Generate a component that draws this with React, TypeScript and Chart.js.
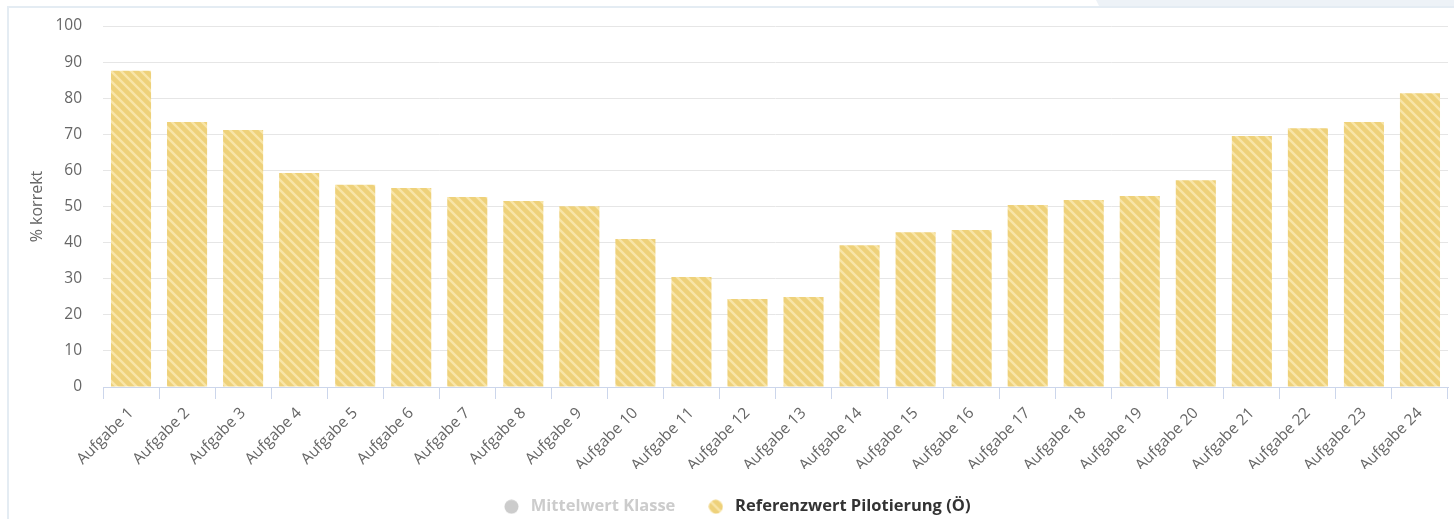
import React, { useEffect, useRef } from "react";
import { Chart, registerables } from "chart.js";

Chart.register(...registerables);

const categories: string[] = [
  "Aufgabe 1", "Aufgabe 2", "Aufgabe 3", "Aufgabe 4", "Aufgabe 5", "Aufgabe 6",
  "Aufgabe 7", "Aufgabe 8", "Aufgabe 9", "Aufgabe 10", "Aufgabe 11", "Aufgabe 12",
  "Aufgabe 13", "Aufgabe 14", "Aufgabe 15", "Aufgabe 16", "Aufgabe 17", "Aufgabe 18",
  "Aufgabe 19", "Aufgabe 20", "Aufgabe 21", "Aufgabe 22", "Aufgabe 23", "Aufgabe 24",
];

const referenceValues: number[] = [
  87.6, 73.4, 71.2, 59.3, 56.0, 55.1, 52.6, 51.5, 50.1, 41.0, 30.5, 24.4,
  24.9, 39.3, 42.9, 43.5, 50.4, 51.8, 52.9, 57.3, 69.5, 71.7, 73.4, 81.4,
];

const classMeans: (number | null)[] = [];

const seriesNames: string[] = ["Mittelwert Klasse", "Referenzwert Pilotierung (Ö)"];
const yAxisTitle = "% korrekt";
const yMin = 0;
const yMax = 100;
const yStep = 10;

const FONT = "'Open Sans', 'Noto Sans', sans-serif";
const BASE = "#eed17a";
const STRIPE = "#f8e5a8";

function makePattern(): CanvasPattern | string {
  const c = document.createElement("canvas");
  c.width = 10;
  c.height = 10;
  const g = c.getContext("2d");
  if (!g) return BASE;
  g.fillStyle = BASE;
  g.fillRect(0, 0, 10, 10);
  g.strokeStyle = STRIPE;
  g.lineWidth = 2.4;
  g.beginPath();
  g.moveTo(-1, -1);
  g.lineTo(11, 11);
  g.moveTo(9, -1);
  g.lineTo(11, 1);
  g.moveTo(-1, 9);
  g.lineTo(1, 11);
  g.stroke();
  const p = g.createPattern(c, "repeat");
  return p || BASE;
}

function makeDot(fill: CanvasPattern | string): HTMLCanvasElement {
  const c = document.createElement("canvas");
  c.width = 15;
  c.height = 15;
  const g = c.getContext("2d");
  if (g) {
    g.fillStyle = fill as any;
    g.beginPath();
    g.arc(7.5, 7.5, 7, 0, Math.PI * 2);
    g.fill();
  }
  return c;
}

export default function App() {
  const ref = useRef<HTMLCanvasElement | null>(null);

  useEffect(() => {
    if (!ref.current) return;
    const pattern = makePattern();
    const grayDot = makeDot("#cccccc");
    const yellowDot = makeDot(pattern);

    const chart = new Chart(ref.current, {
      type: "bar",
      data: {
        labels: categories,
        datasets: [
          {
            label: seriesNames[0],
            data: classMeans as any,
            backgroundColor: "#cccccc",
            hidden: true,
          },
          {
            label: seriesNames[1],
            data: referenceValues,
            backgroundColor: pattern as any,
            borderWidth: 0,
            categoryPercentage: 1,
            barPercentage: 0.715,
          },
        ],
      },
      options: {
        responsive: false,
        animation: false,
        events: [],
        layout: { padding: { left: 23, right: 6, top: 26, bottom: 0 } },
        plugins: {
          tooltip: { enabled: false },
          title: { display: false },
          legend: {
            position: "bottom",
            labels: {
              usePointStyle: true,
              pointStyleWidth: 22,
              boxHeight: 14,
              padding: 29.5,
              font: { family: FONT, size: 16.5, weight: "bold" },
              generateLabels: () => [
                {
                  text: seriesNames[0],
                  fillStyle: "#cccccc",
                  strokeStyle: "#cccccc",
                  lineWidth: 0,
                  fontColor: "#cccccc",
                  hidden: false,
                  pointStyle: grayDot,
                  datasetIndex: 0,
                } as any,
                {
                  text: seriesNames[1],
                  fillStyle: BASE,
                  strokeStyle: BASE,
                  lineWidth: 0,
                  fontColor: "#333333",
                  hidden: false,
                  pointStyle: yellowDot,
                  datasetIndex: 1,
                } as any,
              ],
            },
          },
        },
        scales: {
          x: {
            offset: true,
            grid: {
              display: true,
              offset: true,
              drawOnChartArea: false,
              drawTicks: true,
              tickLength: 12,
              color: "#ccd6eb",
            },
            border: { display: true, color: "#ccd6eb", width: 1 },
            ticks: {
              autoSkip: false,
              maxRotation: 45,
              minRotation: 45,
              padding: 5,
              color: "#666666",
              font: { family: FONT, size: 15.5 },
            },
            afterFit: (scale: any) => {
              scale.height = 82;
              scale.paddingLeft = 0;
              scale.paddingRight = 0;
              scale.paddingTop = 0;
              scale.paddingBottom = 0;
            },
          },
          y: {
            min: yMin,
            max: yMax,
            grid: { color: "#e6e6e6", drawTicks: false, lineWidth: 1 },
            border: { display: false },
            ticks: {
              stepSize: yStep,
              padding: 21,
              color: "#666666",
              font: { family: FONT, size: 15.5 },
            },
            title: {
              display: true,
              text: yAxisTitle,
              color: "#666666",
              padding: { top: 5, bottom: 0 },
              font: { family: FONT, size: 16 },
            },
            afterFit: (scale: any) => {
              scale.width = 80;
              scale.paddingLeft = 0;
              scale.paddingRight = 0;
              scale.paddingTop = 0;
              scale.paddingBottom = 0;
            },
          },
        },
      },
    } as any);

    return () => chart.destroy();
  }, []);

  return (
    <div
      style={{
        position: "fixed",
        left: 0,
        top: 0,
        width: 1454,
        height: 519,
        overflow: "hidden",
        background: "#ffffff",
      }}
    >
      <div
        style={{
          position: "absolute",
          left: 1096,
          top: 0,
          width: 358,
          height: 6,
          background: "#edf2f7",
          clipPath: "polygon(0 0, 100% 0, 100% 100%, 3px 100%)",
        }}
      />
      <div
        style={{ position: "absolute", left: 7, top: 6, width: 1447, height: 2, background: "#e4ecf3" }}
      />
      <div
        style={{ position: "absolute", left: 7, top: 6, width: 2, height: 513, background: "#e4ecf3" }}
      />
      <canvas
        ref={ref}
        width={1454}
        height={525}
        style={{ position: "absolute", left: 0, top: 0, width: 1454, height: 525 }}
      />
    </div>
  );
}
